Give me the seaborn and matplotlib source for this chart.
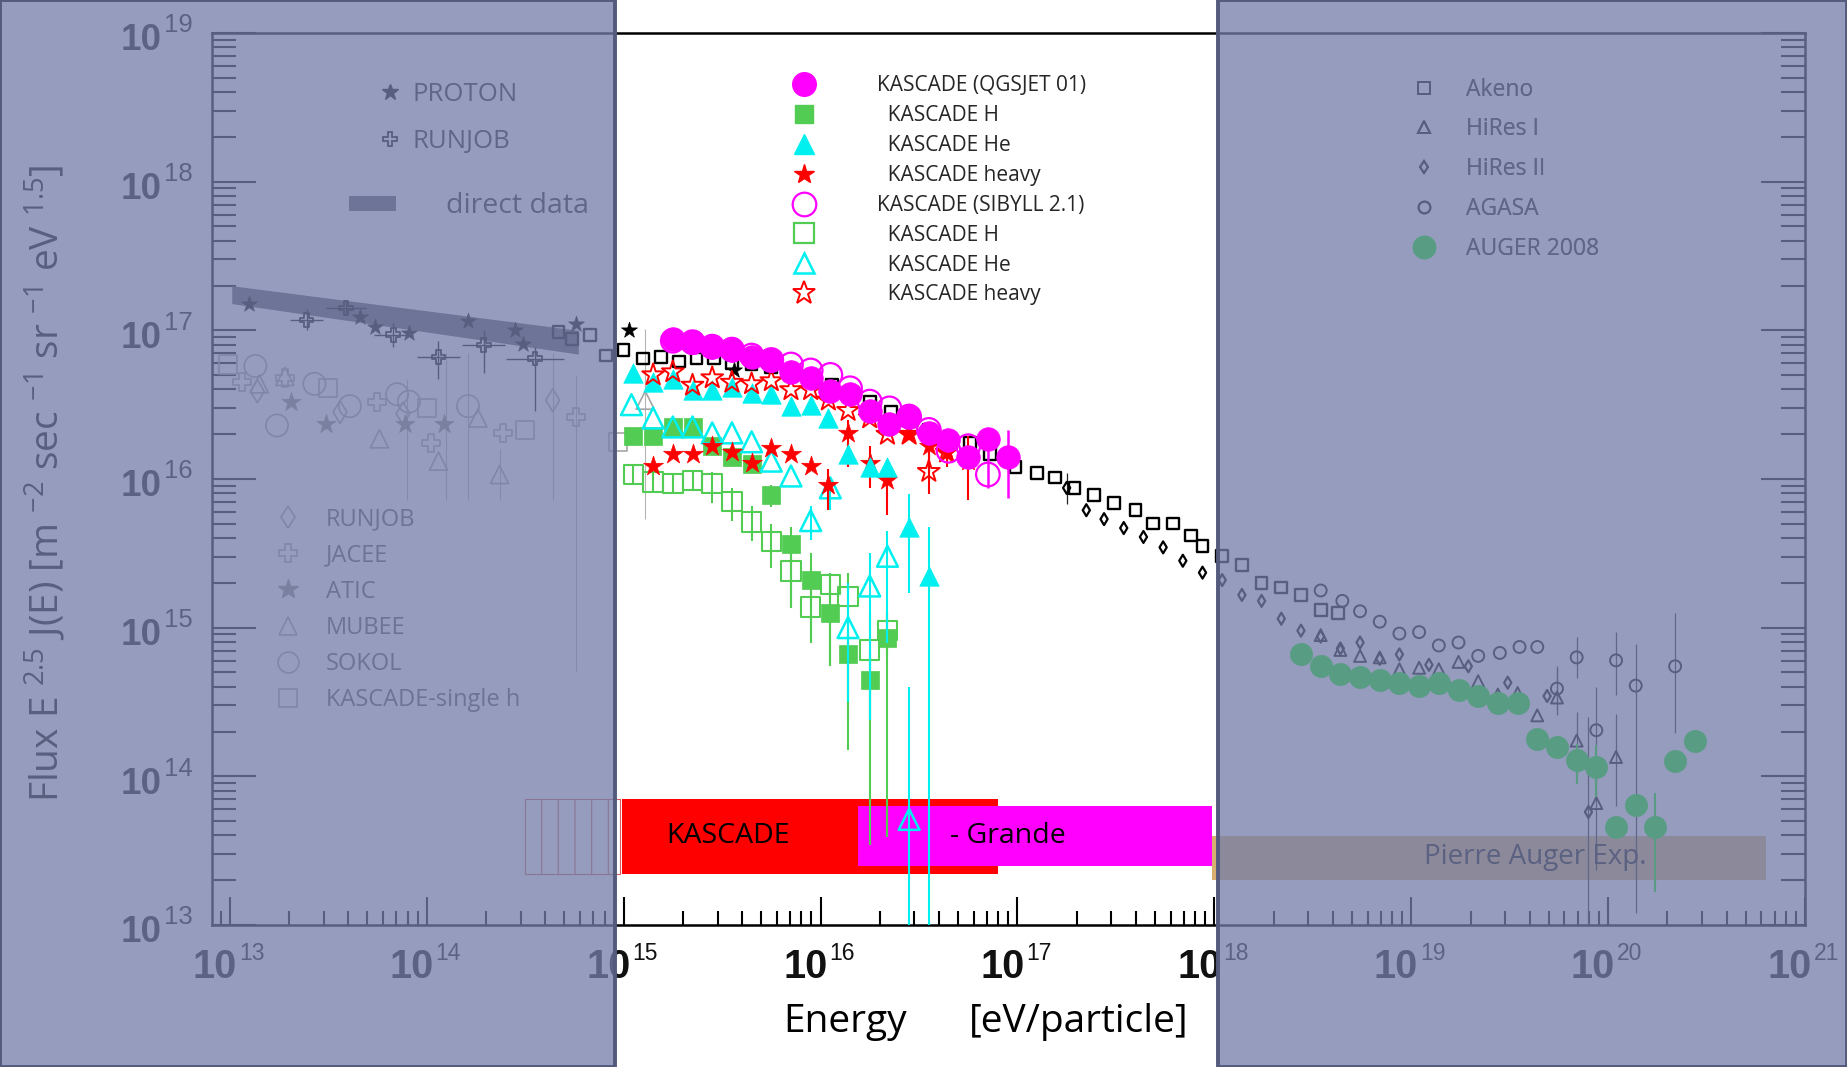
import numpy as np
import pandas as pd
import matplotlib
matplotlib.use("Agg")
import matplotlib.pyplot as plt
import seaborn as sns
from matplotlib import font_manager
from matplotlib.lines import Line2D
from matplotlib.patches import Rectangle, Patch
from matplotlib.ticker import FixedLocator, LogLocator, NullFormatter

# ============ DATA: log10(E / eV) and log10(E^2.5 J(E)) ============
# KASCADE (QGSJET 01)
qgs_all_E = [15.25, 15.35, 15.45, 15.55, 15.65, 15.75, 15.85, 15.95, 16.05, 16.15, 16.25, 16.35, 16.45, 16.55, 16.65, 16.75, 16.85, 16.95]
qgs_all_F = [16.94, 16.92, 16.89, 16.87, 16.82, 16.80, 16.72, 16.68, 16.59, 16.57, 16.46, 16.37, 16.42, 16.31, 16.26, 16.15, 16.27, 16.15]
qgs_all_errE = [16.85, 16.95]
qgs_all_lo = [15.94, 15.87]
qgs_all_hi = [16.33, 16.33]

qgs_H_E = [15.05, 15.15, 15.25, 15.35, 15.45, 15.55, 15.65, 15.75, 15.85, 15.95, 16.05, 16.14, 16.25, 16.34]
qgs_H_F = [16.29, 16.29, 16.35, 16.35, 16.22, 16.15, 16.10, 15.89, 15.56, 15.32, 15.10, 14.82, 14.65, 14.93]
qgs_H_errE = [15.75, 15.85, 15.95, 16.05, 16.14, 16.25, 16.34]
qgs_H_lo = [15.81, 15.13, 14.90, 14.74, 14.18, 13.54, 13.59]
qgs_H_hi = [15.96, 15.68, 15.50, 15.34, 14.96, 14.83, 15.10]

qgs_He_E = [15.05, 15.15, 15.25, 15.35, 15.45, 15.55, 15.65, 15.75, 15.85, 15.95, 16.04, 16.14, 16.25, 16.34, 16.45, 16.55]
qgs_He_F = [16.71, 16.65, 16.67, 16.60, 16.60, 16.62, 16.58, 16.57, 16.49, 16.50, 16.41, 16.17, 16.08, 16.08, 15.68, 15.35]
qgs_He_errE = [16.14, 16.45, 16.55]
qgs_He_lo = [16.08, 15.23, 12.50]
qgs_He_hi = [16.24, 15.90, 15.68]

qgs_hv_E = [15.15, 15.25, 15.35, 15.45, 15.55, 15.65, 15.75, 15.85, 15.95, 16.04, 16.14, 16.25, 16.34, 16.45, 16.55, 16.64, 16.75]
qgs_hv_F = [16.09, 16.17, 16.17, 16.22, 16.18, 16.11, 16.21, 16.17, 16.09, 15.96, 16.31, 16.11, 15.99, 16.30, 16.22, 16.18, 16.12]
qgs_hv_errE = [16.04, 16.14, 16.25, 16.34, 16.55, 16.64, 16.75]
qgs_hv_lo = [15.79, 16.08, 15.94, 15.76, 16.04, 16.08, 15.86]
qgs_hv_hi = [16.07, 16.40, 16.22, 16.13, 16.33, 16.33, 16.29]

# KASCADE (SIBYLL 2.1)
sib_all_E = [15.25, 15.35, 15.45, 15.55, 15.65, 15.75, 15.85, 15.95, 16.05, 16.15, 16.25, 16.35, 16.45, 16.55, 16.65, 16.75, 16.85]
sib_all_F = [16.93, 16.92, 16.89, 16.87, 16.83, 16.80, 16.77, 16.73, 16.70, 16.61, 16.52, 16.475, 16.42, 16.33, 16.19, 16.22, 16.03]

sib_H_E = [15.05, 15.15, 15.25, 15.35, 15.45, 15.55, 15.65, 15.75, 15.85, 15.95, 16.05, 16.14, 16.25, 16.34]
sib_H_F = [16.03, 15.98, 15.97, 15.99, 15.97, 15.85, 15.71, 15.58, 15.38, 15.14, 15.29, 15.21, 14.85, 14.98]
sib_H_lo = [15.96, 15.91, 15.90, 15.92, 15.84, 15.72, 15.58, 15.40, 15.13, 14.90, 14.74, 14.38, 14.38, 14.81]
sib_H_hi = [16.10, 16.05, 16.04, 16.06, 16.05, 15.94, 15.82, 15.70, 15.52, 15.30, 15.37, 15.37, 15.10, 15.10]

sib_He_E = [15.04, 15.15, 15.25, 15.35, 15.45, 15.55, 15.65, 15.75, 15.85, 15.95, 16.05, 16.14, 16.25, 16.34, 16.45]
sib_He_F = [16.50, 16.41, 16.35, 16.35, 16.31, 16.31, 16.25, 16.12, 16.02, 15.72, 15.94, 15.00, 15.28, 15.48, 13.71]
sib_He_errE = [15.95, 16.05, 16.14, 16.25, 16.34, 16.45]
sib_He_lo = [15.59, 15.79, 14.50, 14.38, 14.90, 12.50]
sib_He_hi = [15.82, 15.99, 15.30, 15.50, 15.65, 14.60]

sib_hv_E = [15.15, 15.25, 15.35, 15.45, 15.55, 15.65, 15.75, 15.85, 15.95, 16.04, 16.14, 16.25, 16.34, 16.45, 16.55, 16.64]
sib_hv_F = [16.70, 16.72, 16.63, 16.68, 16.65, 16.64, 16.66, 16.60, 16.60, 16.53, 16.46, 16.41, 16.30, 16.30, 16.05, 16.18]
sib_hv_errE = [16.55]
sib_hv_lo = [15.90]
sib_hv_hi = [16.17]

# Akeno
akeno_E = [14.67, 14.74, 14.83, 14.91, 15.00, 15.10, 15.19, 15.28, 15.37, 15.46, 15.55, 15.65, 15.75, 15.85,
           15.96, 16.06, 16.16, 16.25, 16.36, 16.46, 16.55, 16.65, 16.76, 16.86, 16.99, 17.10, 17.19, 17.29,
           17.39, 17.49, 17.60, 17.69, 17.79, 17.88, 17.94, 18.04, 18.14, 18.24, 18.34, 18.44, 18.54, 18.63]
akeno_F = [16.99, 16.94, 16.97, 16.83, 16.87, 16.81, 16.82, 16.79, 16.81, 16.81, 16.78, 16.77, 16.75, 16.70,
           16.67, 16.63, 16.58, 16.52, 16.45, 16.39, 16.33, 16.27, 16.24, 16.17, 16.08, 16.04, 16.01, 15.94,
           15.89, 15.84, 15.79, 15.70, 15.70, 15.62, 15.55, 15.48, 15.42, 15.30, 15.27, 15.22, 15.12, 15.10]

# HiRes II
hires2_E = [17.25, 17.35, 17.44, 17.54, 17.64, 17.74, 17.84, 17.94, 18.04, 18.14, 18.24, 18.34, 18.44, 18.54,
            18.64, 18.74, 18.84, 18.94, 19.09, 19.29, 19.49, 19.69, 19.90]
hires2_F = [15.94, 15.79, 15.73, 15.67, 15.61, 15.54, 15.45, 15.37, 15.32, 15.22, 15.18, 15.06, 14.98, 14.94,
            14.86, 14.90, 14.79, 14.82, 14.75, 14.74, 14.63, 14.54, 13.76]
hires2_errE = [17.25, 19.90]
hires2_lo = [15.83, 12.90]
hires2_hi = [16.04, 14.40]

# HiRes I
hires1_E = [18.54, 18.64, 18.74, 18.84, 18.94, 19.04, 19.14, 19.24, 19.34, 19.44, 19.54, 19.64, 19.74, 19.84, 19.94, 20.04]
hires1_F = [14.95, 14.85, 14.81, 14.80, 14.72, 14.73, 14.72, 14.77, 14.64, 14.55, 14.56, 14.41, 14.53, 14.24, 13.82, 14.13]
hires1_errE = [19.74, 19.84, 20.04]
hires1_lo = [14.41, 14.01, 13.80]
hires1_hi = [14.74, 14.43, 14.42]

# AGASA
agasa_E = [18.54, 18.65, 18.74, 18.84, 18.94, 19.04, 19.14, 19.24, 19.34, 19.45, 19.55, 19.64, 19.74, 19.84,
           19.94, 20.04, 20.14, 20.34]
agasa_F = [15.25, 15.18, 15.11, 15.04, 14.96, 14.97, 14.88, 14.90, 14.81, 14.83, 14.87, 14.87, 14.59, 14.80,
           14.31, 14.78, 14.61, 14.74]
agasa_errE = [19.74, 19.84, 19.94, 20.04, 20.14, 20.34]
agasa_lo = [14.45, 14.66, 13.37, 14.55, 13.08, 14.29]
agasa_hi = [14.72, 14.94, 14.60, 14.97, 14.89, 15.10]

# AUGER 2008
auger_E = [18.44, 18.54, 18.64, 18.74, 18.84, 18.94, 19.04, 19.14, 19.24, 19.34, 19.44, 19.54, 19.64, 19.74,
           19.84, 19.94, 20.04, 20.14, 20.24, 20.34, 20.44]
auger_F = [14.82, 14.74, 14.69, 14.67, 14.65, 14.63, 14.61, 14.63, 14.58, 14.54, 14.49, 14.49, 14.25, 14.20,
           14.11, 14.06, 13.66, 13.81, 13.66, 14.10, 14.24]
auger_errE = [19.84, 19.94, 20.24]
auger_lo = [13.95, 13.86, 13.22]
auger_hi = [14.22, 14.21, 13.89]

# PROTON satellite (stars) and RUNJOB proton
proton_E = [13.10, 13.66, 13.74, 13.91, 14.21, 14.45, 14.49, 14.76, 15.03, 15.56]
proton_F = [17.18, 17.09, 17.02, 16.98, 17.06, 17.00, 16.91, 17.04, 17.00, 16.73]
runjob_p_E = [13.39, 13.59, 13.83, 14.06, 14.29, 14.55]
runjob_p_F = [17.07, 17.15, 16.97, 16.82, 16.90, 16.81]
runjob_p_dE = [0.085, 0.10, 0.10, 0.11, 0.11, 0.145]
runjob_p_lo = [17.00, 17.10, 16.89, 16.67, 16.71, 16.46]
runjob_p_hi = [17.14, 17.20, 17.05, 16.93, 17.00, 16.89]

# direct data band
band_E = [13.01, 14.77]
band_lo = [17.18, 16.84]
band_hi = [17.30, 17.00]

# direct measurements (all particle)
kssh_E = [12.99, 13.50, 14.00, 14.50, 14.97]
kssh_F = [16.77, 16.61, 16.48, 16.33, 16.25]
sokol_E = [13.13, 13.24, 13.43, 13.61, 13.85, 13.91, 14.21]
sokol_F = [16.76, 16.36, 16.64, 16.49, 16.57, 16.52, 16.49]
jacee_E = [13.06, 13.28, 13.75, 14.02, 14.39, 14.76]
jacee_F = [16.65, 16.68, 16.52, 16.24, 16.31, 16.42]
runjob_E = [13.14, 13.56, 13.88, 14.64]
runjob_F = [16.59, 16.45, 16.44, 16.53]
mubee_E = [13.15, 13.28, 13.76, 14.06, 14.26, 14.37, 15.11]
mubee_F = [16.64, 16.69, 16.27, 16.12, 16.41, 16.03, 16.53]
atic_E = [13.31, 13.49, 13.89, 14.09]
atic_F = [16.52, 16.37, 16.37, 16.37]
direct_errE = [13.90, 14.10, 14.21, 14.37, 14.64, 14.76, 15.11]
direct_lo = [15.86, 15.86, 15.86, 15.86, 15.86, 14.71, 15.73]
direct_hi = [16.67, 16.85, 16.85, 16.20, 16.85, 16.69, 17.01]

# experiment energy ranges
kascade_box_E = [14.99, 16.90]
kascade_box_F = [13.34, 13.85]
grande_box_E = [16.19, 17.99]
grande_box_F = [13.40, 13.80]
hatch_box_E = [14.50, 14.98]
auger_box_E = [17.99, 20.80]
auger_box_F = [13.30, 13.60]

x_decades = [13, 14, 15, 16, 17, 18, 19, 20, 21]
y_decades = [13, 14, 15, 16, 17, 18, 19]

center_labels = ["KASCADE (QGSJET 01)", "  KASCADE H", "  KASCADE He", "  KASCADE heavy",
                 "KASCADE (SIBYLL 2.1)", "  KASCADE H", "  KASCADE He", "  KASCADE heavy"]
ul_labels = ["PROTON", "RUNJOB"]
ll_labels = ["RUNJOB", "JACEE", "ATIC", "MUBEE", "SOKOL", "KASCADE-single h"]
right_labels = ["Akeno", "HiRes I", "HiRes II", "AGASA", "AUGER 2008"]

# ============ STYLE ============
sns.set_theme(style="white")
plt.rcParams["font.family"] = ["Open Sans", "DejaVu Sans"]
plt.rcParams["mathtext.fontset"] = "custom"
plt.rcParams["mathtext.rm"] = "Open Sans"
plt.rcParams["mathtext.it"] = "Open Sans:italic"
plt.rcParams["mathtext.bf"] = "Open Sans:bold"
plt.rcParams["hatch.linewidth"] = 0.8

_names = {f.name for f in font_manager.fontManager.ttflist}
if "Liberation Sans Narrow" in _names:
    YFAM, YSIZE = ["Liberation Sans Narrow", "Liberation Sans"], 30
else:
    YFAM, YSIZE = ["Liberation Sans"], 26.5

MAG = "#ff00ff"
GRN = "#52cc52"
CYA = "#00f0f0"
RED = "#ff0000"
GREY = "#a5a5a5"
AUG = "#00ff10"

fig = plt.figure(figsize=(18.47, 10.67), dpi=100)
fig.patch.set_facecolor("white")
ax = fig.add_axes([0.1148, 0.1331, 0.8625, 0.8360])
ax.set_xscale("log")
ax.set_yscale("log")
ax.set_facecolor("white")


def p10(v):
    return np.power(10.0, np.asarray(v, dtype=float))


def pts(E, F, marker, s, fc, ec, lw, z):
    sns.scatterplot(x=p10(E), y=p10(F), marker=marker, s=s, facecolor=fc, edgecolor=ec,
                    linewidth=lw, zorder=z, legend=False, ax=ax)


def vbars(E, lo, hi, color, lw, z):
    ax.vlines(p10(E), p10(lo), p10(hi), colors=color, linewidth=lw, zorder=z)


# experiment boxes
ax.fill_between(p10(hatch_box_E), p10(kascade_box_F[0]), p10(kascade_box_F[1]), facecolor="white",
                edgecolor="#d06060", hatch="|", linewidth=0.8, zorder=1)
ax.fill_between(p10(kascade_box_E), p10(kascade_box_F[0]), p10(kascade_box_F[1]), color=RED, lw=0, zorder=1)
ax.fill_between(p10(grande_box_E), p10(grande_box_F[0]), p10(grande_box_F[1]), color=MAG, lw=0, zorder=1.1)
ax.fill_between(p10(auger_box_E), p10(auger_box_F[0]), p10(auger_box_F[1]), color="#d9af71", lw=0, zorder=1)
ax.text(p10(15.53), p10(13.60), "KASCADE", ha="center", va="center", fontsize=20.5, color="black", zorder=6)
ax.text(p10(16.95), p10(13.60), "- Grande", ha="center", va="center", fontsize=20.5, color="black", zorder=6)
ax.text(p10(19.63), p10(13.46), "Pierre Auger Exp.", ha="center", va="center", fontsize=20, color="#0a0a0a", zorder=6)

# direct data band
ax.fill_between(p10(band_E), p10(band_lo), p10(band_hi), color="#5a5a66", lw=0, zorder=2)

# direct measurements (grey)
vbars(direct_errE, direct_lo, direct_hi, "#b5b5b5", 0.8, 2)
pts(kssh_E, kssh_F, "s", 169, "none", GREY, 1.2, 2.2)
pts(sokol_E, sokol_F, "o", 256, "none", GREY, 1.2, 2.2)
pts(jacee_E, jacee_F, "P", 169, "none", GREY, 1.2, 2.2)
pts(runjob_E, runjob_F, "d", 137, "none", GREY, 1.2, 2.2)
pts(mubee_E, mubee_F, "^", 169, "none", GREY, 1.2, 2.2)
pts(atic_E, atic_F, "*", 207, "#8a8a8a", "#8a8a8a", 0.5, 2.2)

# proton data
ax.vlines(p10(runjob_p_E), p10(runjob_p_lo), p10(runjob_p_hi), colors="black", linewidth=1.0, zorder=3)
ax.hlines(p10(runjob_p_F), p10(np.subtract(runjob_p_E, runjob_p_dE)), p10(np.add(runjob_p_E, runjob_p_dE)),
          colors="black", linewidth=1.0, zorder=3)
pts(runjob_p_E, runjob_p_F, "P", 100, "none", "black", 1.3, 3.1)
pts(proton_E, proton_F, "*", 144, "black", "black", 0.5, 3.1)

# high energy experiments
vbars(agasa_errE, agasa_lo, agasa_hi, "#222222", 0.9, 3)
vbars(hires1_errE, hires1_lo, hires1_hi, "#222222", 0.9, 3)
vbars(hires2_errE, hires2_lo, hires2_hi, "#222222", 0.9, 3)
pts(akeno_E, akeno_F, "s", 72, "none", "black", 1.7, 3.2)
pts(hires2_E, hires2_F, "d", 37, "none", "black", 1.6, 3.2)
pts(hires1_E, hires1_F, "^", 74, "none", "black", 1.4, 3.2)
pts(agasa_E, agasa_F, "o", 74, "none", "black", 1.4, 3.2)
vbars(auger_errE, auger_lo, auger_hi, AUG, 1.5, 3.3)
pts(auger_E, auger_F, "o", 256, AUG, AUG, 0.5, 3.4)

# KASCADE element spectra
vbars(sib_H_E, sib_H_lo, sib_H_hi, GRN, 1.5, 4)
vbars(qgs_H_errE, qgs_H_lo, qgs_H_hi, GRN, 1.5, 4)
pts(sib_H_E, sib_H_F, "s", 196, "none", GRN, 1.5, 4.1)
pts(qgs_H_E, qgs_H_F, "s", 182, GRN, GRN, 0.5, 4.2)
vbars(sib_He_errE, sib_He_lo, sib_He_hi, CYA, 1.5, 4.3)
vbars(qgs_He_errE, qgs_He_lo, qgs_He_hi, CYA, 1.5, 4.3)
pts(sib_He_E, sib_He_F, "^", 225, "none", CYA, 1.8, 4.4)
vbars(qgs_hv_errE, qgs_hv_lo, qgs_hv_hi, RED, 1.5, 4.5)
pts(qgs_hv_E, qgs_hv_F, "*", 225, RED, RED, 0.5, 4.6)
pts(qgs_He_E, qgs_He_F, "^", 196, CYA, CYA, 0.5, 4.7)
vbars(sib_hv_errE, sib_hv_lo, sib_hv_hi, RED, 1.5, 4.8)
pts(sib_hv_E, sib_hv_F, "*", 272, "none", RED, 1.4, 4.9)
vbars(qgs_all_errE, qgs_all_lo, qgs_all_hi, MAG, 1.8, 5)
pts(sib_all_E, sib_all_F, "o", 289, "none", MAG, 1.6, 5.1)
pts(qgs_all_E, qgs_all_F, "o", 289, MAG, MAG, 0.5, 5.2)

# axes, ticks
ax.set_xlim(p10(12.91), p10(21))
ax.set_ylim(p10(13), p10(19))
ax.set_xlabel("")
ax.set_ylabel("")
ax.xaxis.set_major_locator(FixedLocator(p10(x_decades)))
ax.yaxis.set_major_locator(FixedLocator(p10(y_decades)))
ax.xaxis.set_minor_locator(LogLocator(base=10, subs=np.arange(2, 10) * 1.0, numticks=100))
ax.yaxis.set_minor_locator(LogLocator(base=10, subs=np.arange(2, 10) * 1.0, numticks=100))
ax.xaxis.set_major_formatter(NullFormatter())
ax.xaxis.set_minor_formatter(NullFormatter())
ax.yaxis.set_major_formatter(NullFormatter())
ax.yaxis.set_minor_formatter(NullFormatter())
ax.tick_params(axis="x", which="major", direction="in", length=20, width=1.5, color="black",
               bottom=True, top=False, labelbottom=False)
ax.tick_params(axis="x", which="minor", direction="in", length=10, width=1.5, color="black",
               bottom=True, top=False)
ax.tick_params(axis="y", which="major", direction="in", length=31.5, width=1.5, color="black",
               left=True, right=True, labelleft=False)
ax.tick_params(axis="y", which="minor", direction="in", length=17, width=1.5, color="black",
               left=True, right=True)
for sp in ax.spines.values():
    sp.set_visible(True)
    sp.set_color("black")
    sp.set_linewidth(1.8)

PX = 0.72  # points per pixel at 100 dpi
for e in x_decades:
    ax.annotate("10", xy=(p10(e), 0), xycoords=ax.get_xaxis_transform(), xytext=(7 * PX, -53 * PX),
                textcoords="offset points", ha="right", va="baseline", fontsize=28.5, fontweight="bold",
                family="Liberation Sans", color="#111111", annotation_clip=False)
    ax.annotate(str(e), xy=(p10(e), 0), xycoords=ax.get_xaxis_transform(), xytext=(9 * PX, -35 * PX),
                textcoords="offset points", ha="left", va="baseline", fontsize=16.5,
                family="Liberation Sans", color="#111111", annotation_clip=False)
for e in y_decades:
    ax.annotate("10", xy=(0, p10(e)), xycoords=ax.get_yaxis_transform(), xytext=(-50 * PX, -17.5 * PX),
                textcoords="offset points", ha="right", va="baseline", fontsize=YSIZE, fontweight="bold",
                family=YFAM, color="#111111", annotation_clip=False)
    ax.annotate(str(e), xy=(0, p10(e)), xycoords=ax.get_yaxis_transform(), xytext=(-48 * PX, 0.5 * PX),
                textcoords="offset points", ha="left", va="baseline", fontsize=18.5,
                family="Liberation Sans", color="#111111", annotation_clip=False)

fig.text(783.7 / 1847, 1 - 1031.7 / 1067, "Energy", fontsize=28, ha="left", va="baseline", color="black")
fig.text(969 / 1847, 1 - 1031.7 / 1067, "[eV/particle]", fontsize=28, ha="left", va="baseline", color="black")
fig.text(59 / 1847, 1 - 483 / 1067,
         r"Flux E $^{2.5}$ J(E) [m $^{-2}$ sec $^{-1}$ sr $^{-1}$ eV $^{1.5}$]",
         fontsize=28, rotation=90, rotation_mode="anchor", ha="center", va="baseline", color="black")

# legends
h_center = [
    Line2D([], [], ls="none", marker="o", ms=17, mfc=MAG, mec=MAG),
    Line2D([], [], ls="none", marker="s", ms=13.5, mfc=GRN, mec=GRN),
    Line2D([], [], ls="none", marker="^", ms=14, mfc=CYA, mec=CYA),
    Line2D([], [], ls="none", marker="*", ms=15, mfc=RED, mec=RED),
    Line2D([], [], ls="none", marker="o", ms=17, mfc="none", mec=MAG, mew=1.6),
    Line2D([], [], ls="none", marker="s", ms=14, mfc="none", mec=GRN, mew=1.6),
    Line2D([], [], ls="none", marker="^", ms=15, mfc="none", mec=CYA, mew=1.8),
    Line2D([], [], ls="none", marker="*", ms=17, mfc="none", mec=RED, mew=1.4),
]
leg_c = ax.legend(h_center, center_labels, loc="upper left", bbox_to_anchor=(0.3651, 0.9524),
                  bbox_transform=ax.transAxes, frameon=False, prop={"family": "Open Sans", "size": 15},
                  handlelength=1.0, handletextpad=3.0, labelspacing=0.425, borderpad=0,
                  borderaxespad=0, numpoints=1)
ax.add_artist(leg_c)

h_ul = [Line2D([], [], ls="none", marker="*", ms=12, mfc="black", mec="black"),
        Line2D([], [], ls="none", marker="P", ms=10, mfc="none", mec="black", mew=1.3)]
leg_ul = ax.legend(h_ul, ul_labels, loc="upper left", bbox_to_anchor=(0.105, 0.9451),
                   bbox_transform=ax.transAxes, frameon=False, prop={"family": "Open Sans", "size": 18.5},
                   handlelength=0.8, handletextpad=0.5, labelspacing=0.85, borderpad=0,
                   borderaxespad=0, numpoints=1, labelcolor="#202020")
ax.add_artist(leg_ul)

leg_dd = ax.legend([Patch(facecolor="#5a5a66", edgecolor="none")], ["direct data"], loc="upper left",
                   bbox_to_anchor=(0.086, 0.8214), bbox_transform=ax.transAxes, frameon=False,
                   prop={"family": "Open Sans", "size": 20.5}, handlelength=1.65, handleheight=0.43,
                   handletextpad=1.75, borderpad=0, borderaxespad=0, labelcolor="#202020")
ax.add_artist(leg_dd)

h_ll = [Line2D([], [], ls="none", marker="d", ms=11.7, mfc="none", mec=GREY, mew=1.2),
        Line2D([], [], ls="none", marker="P", ms=13, mfc="none", mec=GREY, mew=1.2),
        Line2D([], [], ls="none", marker="*", ms=15, mfc="#8a8a8a", mec="#8a8a8a"),
        Line2D([], [], ls="none", marker="^", ms=13, mfc="none", mec=GREY, mew=1.2),
        Line2D([], [], ls="none", marker="o", ms=15, mfc="none", mec=GREY, mew=1.2),
        Line2D([], [], ls="none", marker="s", ms=13, mfc="none", mec=GREY, mew=1.2)]
leg_ll = ax.legend(h_ll, ll_labels, loc="upper left", bbox_to_anchor=(0.0402, 0.4685),
                   bbox_transform=ax.transAxes, frameon=False, prop={"family": "Open Sans", "size": 17},
                   handlelength=1.0, handletextpad=1.12, labelspacing=0.52, borderpad=0,
                   borderaxespad=0, numpoints=1, labelcolor="#555555")
ax.add_artist(leg_ll)

h_r = [Line2D([], [], ls="none", marker="s", ms=8.5, mfc="none", mec="black", mew=1.4),
       Line2D([], [], ls="none", marker="^", ms=8.5, mfc="none", mec="black", mew=1.4),
       Line2D([], [], ls="none", marker="d", ms=6.5, mfc="none", mec="black", mew=1.4),
       Line2D([], [], ls="none", marker="o", ms=8.5, mfc="none", mec="black", mew=1.4),
       Line2D([], [], ls="none", marker="o", ms=16, mfc=AUG, mec=AUG)]
leg_r = ax.legend(h_r, right_labels, loc="upper left", bbox_to_anchor=(0.7536, 0.950),
                  bbox_transform=ax.transAxes, frameon=False, prop={"family": "Open Sans", "size": 16.5},
                  handlelength=1.0, handletextpad=1.34, labelspacing=0.69, borderpad=0,
                  borderaxespad=0, numpoints=1, labelcolor="#202020")
ax.add_artist(leg_r)

# translucent grey panels over the non-KASCADE energy ranges
ov_face = (116 / 255, 125 / 255, 168 / 255, 0.76)
for x0, w in [(0.0, 0.3329), (0.6594, 1 - 0.6594)]:
    fig.add_artist(Rectangle((x0, 0.0), w, 1.0, transform=fig.transFigure, facecolor=ov_face,
                             edgecolor="#535a7c", linewidth=2.8, zorder=10))

fig.savefig("out.png", dpi=100, facecolor="white")
